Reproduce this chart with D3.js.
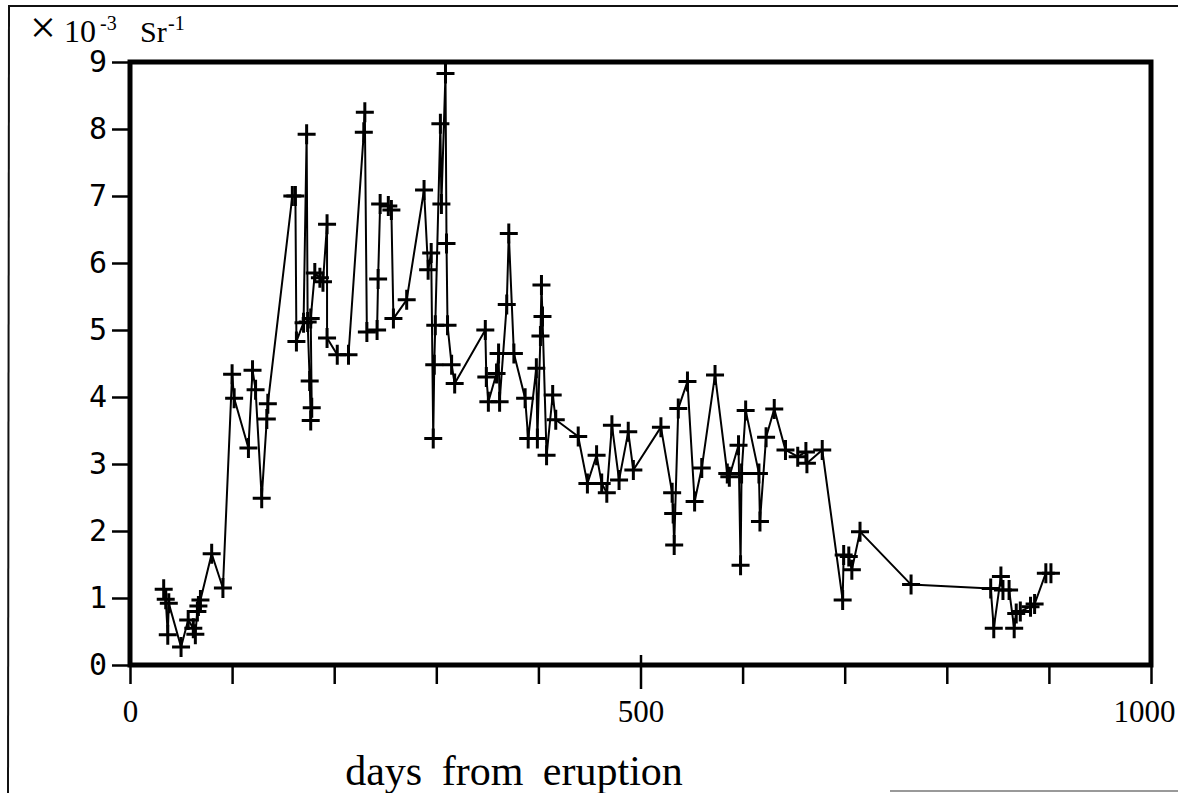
<!DOCTYPE html>
<html>
<head>
<meta charset="utf-8">
<script src="https://cdn.jsdelivr.net/npm/d3@7"></script>
<style>
  body { margin: 0; background: #fff; }
  svg { display: block; }
</style>
</head>
<body>
<div id="vis1"></div>
<script>
// Days from eruption for each measurement (in measurement order)
const DAYS = [
  33, 35, 37, 38, 50, 57, 62, 64, 66, 67, 69, 80, 91,
  100, 102, 116, 120, 123, 129, 134, 135,
  159, 162, 163, 170, 173, 174, 176, 177, 178, 177, 181, 186, 189, 193, 193, 203, 214,
  229, 230, 232, 242, 243, 245, 253, 256, 258, 271, 288, 292, 295, 297, 298, 299,
  304, 305, 309, 310, 311, 315, 318,
  348, 349, 351, 359, 361, 362, 369, 371, 376, 387, 390, 398, 399, 402, 403, 404, 408, 414, 417,
  439, 448, 457, 462, 467, 472, 479, 488, 493, 520, 531, 532, 533, 537, 546, 553, 560, 573,
  585, 587, 596, 598, 599, 603, 616, 617, 623, 631, 642, 654, 662, 663, 678,
  698, 699, 704, 707, 715, 765, 843, 846, 853, 855, 861, 866, 868, 872, 882, 886, 897, 902
];

// Values in units of 1e-3 sr^-1
const VALUES = [
  1.13, 0.98, 0.45, 0.92, 0.27, 0.67, 0.55, 0.46, 0.80, 0.88, 0.97, 1.66, 1.15,
  4.34, 3.98, 3.24, 4.40, 4.11, 2.49, 3.67, 3.90,
  7.00, 7.00, 4.83, 5.11, 7.92, 5.12, 4.24, 3.65, 3.84, 5.17, 5.85, 5.78, 5.72, 6.58, 4.88, 4.63, 4.63,
  7.95, 8.25, 4.97, 5.00, 5.76, 6.88, 6.85, 6.79, 5.17, 5.45, 7.09, 5.90, 6.15, 3.38, 4.48, 5.07,
  8.08, 6.88, 8.83, 6.29, 5.07, 4.48, 4.20,
  5.00, 4.30, 3.93, 4.35, 4.65, 3.93, 5.38, 6.44, 4.65, 3.98, 3.38, 4.43, 3.38, 4.91, 5.67, 5.20, 3.13, 4.03, 3.66,
  3.41, 2.71, 3.13, 2.71, 2.57, 3.58, 2.76, 3.48, 2.91, 3.55, 2.57, 2.26, 1.79, 3.83, 4.23, 2.44, 2.94, 4.33,
  2.86, 2.81, 3.28, 1.49, 2.86, 3.80, 2.86, 2.14, 3.40, 3.82, 3.21, 3.11, 3.18, 3.01, 3.21,
  0.97, 1.64, 1.62, 1.42, 1.99, 1.20, 1.14, 0.55, 1.32, 1.12, 1.12, 0.55, 0.77, 0.80, 0.87, 0.91, 1.37, 1.37
];

// Tick labels
const Y_TICKS = [0, 1, 2, 3, 4, 5, 6, 7, 8, 9];
const X_TICKS = [0, 100, 200, 300, 400, 500, 600, 700, 800, 900, 1000];
const X_LABELED = [0, 500, 1000];

const points = DAYS.map((d, i) => ({ day: d, val: VALUES[i] }));

// Frame dimensions
const FRAME_HEIGHT = 793;
const FRAME_WIDTH = 1178;
const MARGINS = {left: 130, right: 27, top: 62, bottom: 128};

const VIS_HEIGHT = FRAME_HEIGHT - MARGINS.top - MARGINS.bottom;
const VIS_WIDTH = FRAME_WIDTH - MARGINS.left - MARGINS.right;

const FRAME1 = d3.select("#vis1")
                 .append("svg")
                 .attr("height", FRAME_HEIGHT)
                 .attr("width", FRAME_WIDTH);

const X_SCALE = d3.scaleLinear().domain([0, 1000]).range([MARGINS.left, MARGINS.left + VIS_WIDTH]);
const Y_SCALE = d3.scaleLinear().domain([0, 9]).range([MARGINS.top + VIS_HEIGHT, MARGINS.top]);

// scanned page border bits
FRAME1.append("line")
      .attr("x1", 8).attr("x2", FRAME_WIDTH).attr("y1", 6).attr("y2", 6)
      .attr("stroke", "#111").attr("stroke-width", 2);
FRAME1.append("line")
      .attr("x1", 9).attr("x2", 8).attr("y1", 6).attr("y2", FRAME_HEIGHT)
      .attr("stroke", "#111").attr("stroke-width", 2);
FRAME1.append("line")
      .attr("x1", 890).attr("x2", FRAME_WIDTH).attr("y1", 791).attr("y2", 791)
      .attr("stroke", "#777").attr("stroke-width", 1.5);

// Y axis (ticks and labels only, frame drawn below)
const yAxis = FRAME1.append("g")
      .attr("transform", "translate(" + MARGINS.left + ",0)")
      .call(d3.axisLeft(Y_SCALE).tickValues(Y_TICKS).tickSize(18).tickPadding(5));
yAxis.select(".domain").remove();
yAxis.selectAll("line").attr("stroke", "#000").attr("stroke-width", 2.5);
yAxis.selectAll("text")
     .attr("font-family", "DejaVu Sans Mono, monospace")
     .attr("font-size", "30px")
     .attr("fill", "#000");

// X axis
const xAxis = FRAME1.append("g")
      .attr("transform", "translate(0," + (MARGINS.top + VIS_HEIGHT) + ")")
      .call(d3.axisBottom(X_SCALE).tickValues(X_TICKS).tickSize(19).tickPadding(16)
              .tickFormat((d) => X_LABELED.includes(d) ? d : ""));
xAxis.select(".domain").remove();
xAxis.selectAll("line").attr("stroke", "#000").attr("stroke-width", 2.5);
xAxis.selectAll(".tick")
     .filter((d) => d === 500)
     .select("line").attr("y1", -10).attr("y2", 24);
xAxis.selectAll("text")
     .attr("font-family", "Liberation Serif, serif")
     .attr("font-size", "31px")
     .attr("fill", "#000");
xAxis.selectAll(".tick")
     .filter((d) => d === 1000)
     .select("text").attr("dx", -7);

// plot frame
FRAME1.append("rect")
      .attr("x", X_SCALE(0))
      .attr("y", Y_SCALE(9))
      .attr("width", X_SCALE(1000) - X_SCALE(0))
      .attr("height", Y_SCALE(0) - Y_SCALE(9))
      .attr("fill", "none")
      .attr("stroke", "#000")
      .attr("stroke-width", 5);

// data line
const line = d3.line().x((d) => X_SCALE(d.day)).y((d) => Y_SCALE(d.val));
FRAME1.append("path")
      .datum(points)
      .attr("d", line)
      .attr("fill", "none")
      .attr("stroke", "#000")
      .attr("stroke-width", 2)
      .attr("stroke-linejoin", "round");

// plus markers
FRAME1.append("g")
      .selectAll("path")
      .data(points)
      .enter()
      .append("path")
      .attr("d", (d) => {
        const cx = X_SCALE(d.day), cy = Y_SCALE(d.val);
        return "M" + (cx - 9) + "," + cy + "H" + (cx + 9) +
               "M" + cx + "," + (cy - 10) + "V" + (cy + 10);
      })
      .attr("stroke", "#000")
      .attr("stroke-width", 3)
      .attr("fill", "none");

// unit label at the top left
const unit = FRAME1.append("g")
      .attr("font-family", "Liberation Serif, serif")
      .attr("fill", "#000");
unit.append("text").attr("x", 30).attr("y", 43).attr("font-size", "46px").text("\u00d7");
unit.append("text").attr("x", 64).attr("y", 42).attr("font-size", "32px").text("10");
unit.append("text").attr("x", 100).attr("y", 30).attr("font-size", "20px").text("-3");
unit.append("text").attr("x", 140).attr("y", 42).attr("font-size", "30px").text("Sr");
unit.append("text").attr("x", 168).attr("y", 30).attr("font-size", "20px").text("-1");

// x axis title
FRAME1.append("text")
      .attr("x", 514)
      .attr("y", 785)
      .attr("text-anchor", "middle")
      .attr("font-family", "Liberation Serif, serif")
      .attr("font-size", "42px")
      .attr("word-spacing", "9px")
      .attr("fill", "#000")
      .text("days from eruption");
</script>
</body>
</html>
